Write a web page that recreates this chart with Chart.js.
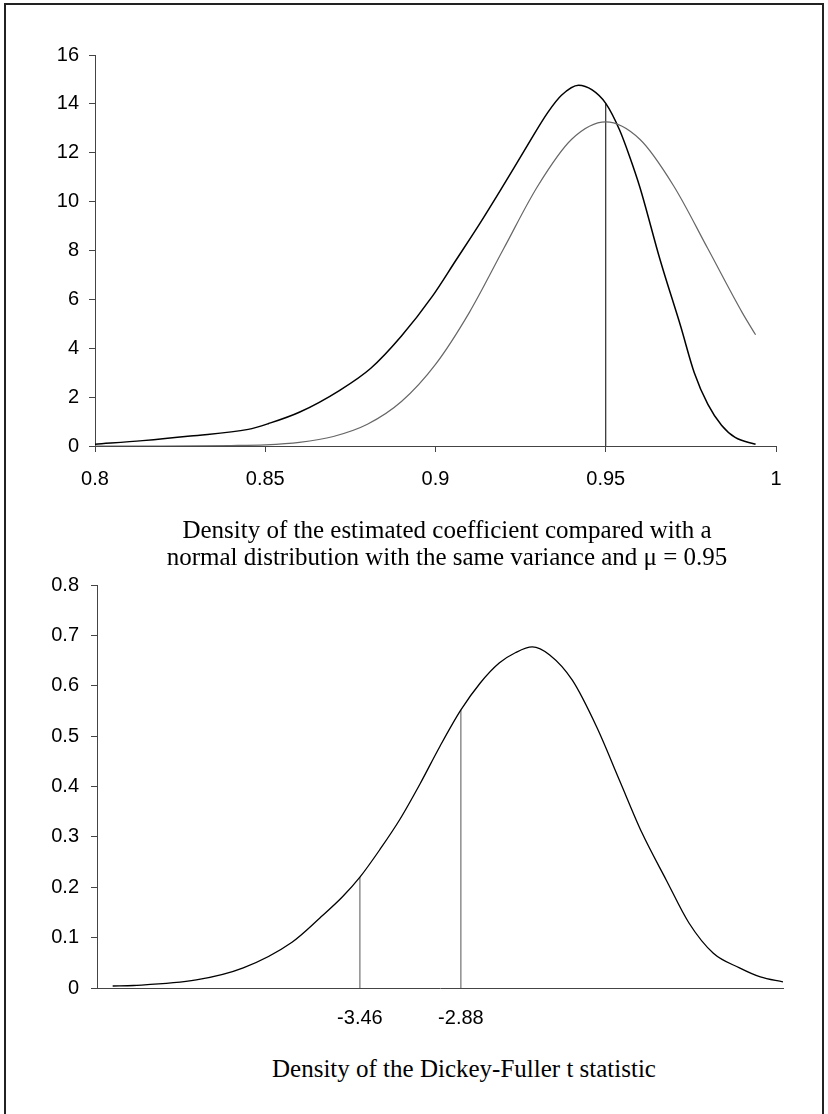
<!DOCTYPE html>
<html>
<head>
<meta charset="utf-8">
<script src="https://cdn.jsdelivr.net/npm/chart.js@4/dist/chart.umd.min.js"></script>
<style>
    html, body { margin: 0; padding: 0; background: #fff; }
    body { width: 828px; height: 1114px; position: relative; overflow: hidden; }
    #frame { position: absolute; left: 4px; top: 3px; width: 816px; height: 1200px; border: 2px solid #222; border-bottom: none; }
    canvas { position: absolute; left: 0; }
    #coef-chart { top: 0; }
    #df-chart { top: 560px; }
    .caption { position: absolute; font-family: "Liberation Serif", "Times New Roman", serif; font-size: 25px; line-height: 27px; color: #000; text-align: center; white-space: nowrap; z-index: 2; }
    #coef-caption { left: 147px; width: 600px; top: 516px; }
    #df-caption { left: 164px; width: 600px; top: 1055px; }
</style>
</head>
<body>
<div id="frame"></div>
<canvas id="coef-chart" width="828" height="500"></canvas>
<canvas id="df-chart" width="828" height="470"></canvas>
<div class="caption" id="coef-caption">Density of the estimated coefficient compared with a<br>normal distribution with the same variance and &mu; = 0.95</div>
<div class="caption" id="df-caption">Density of the Dickey-Fuller t statistic</div>

<script>
// estimated coefficient density (black)
const coefX = [0.8, 0.814, 0.828, 0.845, 0.851, 0.86, 0.872, 0.881, 0.89, 0.899, 0.906, 0.913, 0.919, 0.927, 0.933, 0.937, 0.942, 0.946, 0.95, 0.954, 0.957, 0.96, 0.966, 0.972, 0.976, 0.98, 0.984, 0.988, 0.994];
const coefY = [0.07, 0.22, 0.41, 0.68, 0.92, 1.38, 2.29, 3.18, 4.5, 6.11, 7.6, 9.1, 10.45, 12.3, 13.65, 14.35, 14.76, 14.57, 14.02, 12.95, 11.85, 10.6, 7.6, 4.9, 3.0, 1.7, 0.85, 0.35, 0.07];

// normal distribution, same variance, mu = 0.95 (grey)
const normalX = [0.8, 0.82, 0.84, 0.85, 0.86, 0.87, 0.88, 0.89, 0.9, 0.91, 0.92, 0.93, 0.94, 0.95, 0.96, 0.97, 0.98, 0.99, 0.994];
const normalY = [0, 0, 0.02, 0.05, 0.15, 0.39, 0.89, 1.82, 3.34, 5.48, 8.07, 10.63, 12.55, 13.26, 12.55, 10.63, 8.07, 5.48, 4.55];

const coefMarker = 0.95;
const coefMarkerHeight = 14.02;

const coefXTicks = [0.8, 0.85, 0.9, 0.95, 1];
const coefXTickLabels = ['0.8', '0.85', '0.9', '0.95', '1'];
const coefYTicks = [0, 2, 4, 6, 8, 10, 12, 14, 16];
const coefYTickLabels = ['0', '2', '4', '6', '8', '10', '12', '14', '16'];

// Dickey-Fuller t statistic density
const dfX = [-4.88, -4.76, -4.40, -4.13, -3.85, -3.69, -3.56, -3.46, -3.345, -3.23, -3.115, -3.00, -2.88, -2.77, -2.66, -2.565, -2.47, -2.37, -2.24, -2.10, -1.97, -1.84, -1.70, -1.57, -1.43, -1.28, -1.16, -1.03];
const dfY = [0.004, 0.005, 0.016, 0.040, 0.091, 0.139, 0.181, 0.22, 0.275, 0.335, 0.405, 0.48, 0.552, 0.605, 0.645, 0.666, 0.677, 0.661, 0.611, 0.518, 0.413, 0.308, 0.214, 0.129, 0.069, 0.040, 0.022, 0.012];

const dfMarkers = [-3.46, -2.88];
const dfMarkerHeights = [0.22, 0.552];

const dfXTickLabels = ['-3.46', '-2.88'];
const dfYTicks = [0, 0.1, 0.2, 0.3, 0.4, 0.5, 0.6, 0.7, 0.8];
const dfYTickLabels = ['0', '0.1', '0.2', '0.3', '0.4', '0.5', '0.6', '0.7', '0.8'];

const AXIS_COLOR = '#444';
const TICK_FONT = { family: '"Liberation Sans", Arial, sans-serif', size: 20 };

Chart.defaults.animation = false;
Chart.defaults.color = '#000';

drawCoefChart('#coef-chart');
drawDfChart('#df-chart');

function toPoints(xs, ys) {
    return xs.map((x, i) => ({ x: x, y: ys[i] }));
}

function curve(points, color, width) {
    return {
        data: points,
        borderColor: color,
        borderWidth: width,
        pointRadius: 0,
        cubicInterpolationMode: 'monotone',
        fill: false
    };
}

function markerLine(x, height, color) {
    return {
        data: [{ x: x, y: 0 }, { x: x, y: height }],
        borderColor: color,
        borderWidth: 1,
        pointRadius: 0,
        tension: 0,
        fill: false
    };
}

function fixedTicks(values) {
    return scale => {
        scale.ticks = values.map(v => ({ value: v }));
    };
}

function axis(opts) {
    return {
        type: 'linear',
        min: opts.min,
        max: opts.max,
        afterBuildTicks: fixedTicks(opts.ticks),
        afterFit: scale => {
            if (opts.width) scale.width = opts.width;
            if (opts.height) scale.height = opts.height;
        },
        grid: {
            drawOnChartArea: false,
            drawTicks: opts.tickLength > 0,
            tickLength: opts.tickLength,
            color: AXIS_COLOR
        },
        border: { display: true, color: AXIS_COLOR, width: 1 },
        ticks: {
            autoSkip: false,
            maxRotation: 0,
            padding: opts.padding,
            font: TICK_FONT,
            color: '#000',
            callback: (value, index) => opts.labels[index]
        }
    };
}

function drawCoefChart(selector) {
    const ctx = document.querySelector(selector);

    new Chart(ctx, {
        type: 'line',
        data: {
            datasets: [
                curve(toPoints(normalX, normalY), '#666', 1.2),
                curve(toPoints(coefX, coefY), '#000', 1.5),
                markerLine(coefMarker, coefMarkerHeight, '#000')
            ]
        },
        options: {
            responsive: false,
            layout: { padding: { left: 0, top: 55, right: 52, bottom: 10 } },
            plugins: { legend: { display: false }, tooltip: { enabled: false } },
            scales: {
                x: axis({ min: 0.8, max: 1, ticks: coefXTicks, labels: coefXTickLabels, height: 44, tickLength: 6, padding: 15 }),
                y: axis({ min: 0, max: 16, ticks: coefYTicks, labels: coefYTickLabels, width: 95, tickLength: 6, padding: 10 })
            }
        }
    });
}

function drawDfChart(selector) {
    const ctx = document.querySelector(selector);
    const markers = dfMarkers.map((x, i) => markerLine(x, dfMarkerHeights[i], '#555'));

    new Chart(ctx, {
        type: 'line',
        data: {
            datasets: [curve(toPoints(dfX, dfY), '#000', 1.3)].concat(markers)
        },
        options: {
            responsive: false,
            layout: { padding: { left: 0, top: 25, right: 45, bottom: 2 } },
            plugins: { legend: { display: false }, tooltip: { enabled: false } },
            scales: {
                x: axis({ min: -4.97, max: -1.03, ticks: dfMarkers, labels: dfXTickLabels, height: 40, tickLength: 0, padding: 18 }),
                y: axis({ min: 0, max: 0.8, ticks: dfYTicks, labels: dfYTickLabels, width: 97, tickLength: 6, padding: 12 })
            }
        }
    });
}
</script>
</body>
</html>
